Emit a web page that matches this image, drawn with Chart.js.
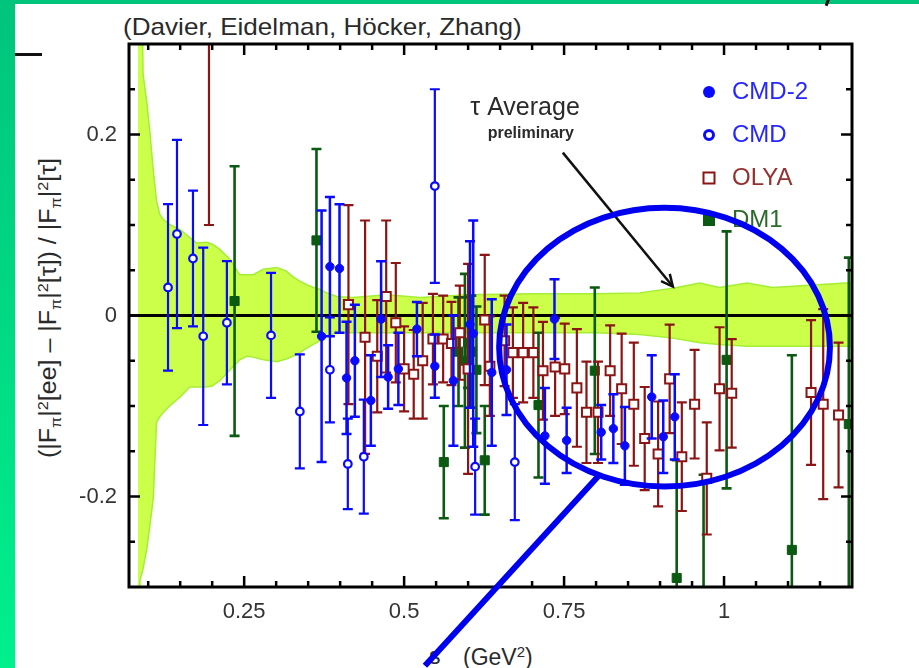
<!DOCTYPE html>
<html><head><meta charset="utf-8">
<script src="https://cdn.jsdelivr.net/npm/chart.js@4.4.1/dist/chart.umd.min.js"></script>
<style>
html,body{margin:0;padding:0;width:919px;height:668px;overflow:hidden;}
body{position:relative;background:linear-gradient(180deg,#00c47a 0%,#00f08e 100%);font-family:"Liberation Sans",Arial,sans-serif;}
#panel{position:absolute;left:15px;top:4px;right:0;bottom:0;background:#fff;}
#dash{position:absolute;left:15px;top:53px;width:27px;height:3px;background:#111;}
#slash{position:absolute;left:826px;top:-2px;width:3px;height:8px;background:#111;transform:rotate(20deg);}
.lbl{position:absolute;color:#2a2a2a;white-space:nowrap;line-height:1;}
#title{left:123px;top:15px;font-size:24px;transform-origin:0 0;}
#ylab{left:50px;top:308px;font-size:23px;}
#xs{left:429px;top:645px;font-size:23px;}
#xunit{left:463px;top:645px;font-size:23px;}
sub{font-size:0.65em;vertical-align:-0.35em;}
sup{font-size:0.65em;vertical-align:0.55em;}
canvas{position:absolute;left:0;top:0;}
</style></head>
<body>
<div id="panel"></div>
<div id="dash"></div>
<div id="slash"></div>
<div class="lbl" id="title">(Davier, Eidelman, Höcker, Zhang)</div>
<div class="lbl" id="ylab">(|F<sub>π</sub>|<sup>2</sup>[ee] – |F<sub>π</sub>|<sup>2</sup>[τ]) / |F<sub>π</sub>|<sup>2</sup>[τ]</div>
<div class="lbl" id="xs">s</div>
<div class="lbl" id="xunit">(GeV<sup>2</sup>)</div>
<canvas id="c" width="919" height="668"></canvas>
<script>
// ---------- data ----------
const xTickVals = [0.25, 0.5, 0.75, 1.0];
const xTickLabels = ['0.25', '0.5', '0.75', '1'];
const yTickVals = [-0.2, 0, 0.2];
const yTickLabels = ['-0.2', '0', '0.2'];

// CMD-2 (filled circles)
const cmd2X = [0.371, 0.384, 0.399, 0.410, 0.423, 0.448, 0.464, 0.475, 0.491, 0.520, 0.548, 0.577, 0.603, 0.608, 0.637, 0.660, 0.720, 0.735, 0.754, 0.808, 0.827, 0.845, 0.887, 0.905, 0.923];
const cmd2Y = [-0.023, 0.054, 0.052, -0.069, -0.050, -0.094, -0.004, -0.068, -0.059, -0.015, -0.056, -0.072, -0.010, -0.020, -0.063, -0.060, -0.133, -0.004, -0.138, -0.129, -0.125, -0.144, -0.090, -0.134, -0.112];
const cmd2E = [0.139, 0.077, 0.071, 0.062, 0.062, 0.050, 0.064, 0.035, 0.040, 0.030, 0.035, 0.072, 0.092, 0.125, 0.081, 0.050, 0.053, 0.044, 0.036, 0.030, 0.038, 0.043, 0.046, 0.040, 0.047];

// CMD (open circles)
const cmdX = [0.131, 0.145, 0.170, 0.186, 0.223, 0.292, 0.337, 0.384, 0.412, 0.437, 0.548, 0.611, 0.673];
const cmdY = [0.031, 0.090, 0.063, -0.023, -0.008, -0.022, -0.106, -0.060, -0.164, -0.156, 0.143, -0.167, -0.162];
const cmdE = [0.092, 0.104, 0.075, 0.098, 0.068, 0.069, 0.063, 0.058, 0.050, 0.063, 0.107, 0.053, 0.064];

// OLYA (open squares)
const olyaX = [0.195, 0.413, 0.439, 0.458, 0.472, 0.487, 0.500, 0.515, 0.529, 0.545, 0.561, 0.574, 0.587, 0.600, 0.626, 0.634, 0.657, 0.670, 0.686, 0.702, 0.717, 0.736, 0.751, 0.770, 0.785, 0.803, 0.822, 0.840, 0.859, 0.876, 0.897, 0.915, 0.934, 0.954, 0.973, 0.993, 1.012, 1.136, 1.155, 1.179];
const olyaY = [0.32, 0.012, -0.024, -0.045, 0.021, -0.008, -0.059, -0.065, -0.050, -0.026, -0.026, -0.031, -0.019, -0.059, -0.005, -0.056, -0.028, -0.041, -0.041, -0.041, -0.061, -0.057, -0.059, -0.080, -0.107, -0.107, -0.061, -0.081, -0.098, -0.136, -0.153, -0.070, -0.156, -0.098, -0.180, -0.081, -0.086, -0.085, -0.098, -0.110];
const olyaE = [0.22, 0.110, 0.129, 0.062, 0.084, 0.066, 0.047, 0.049, 0.064, 0.050, 0.048, 0.046, 0.052, 0.116, 0.072, 0.055, 0.050, 0.050, 0.055, 0.050, 0.054, 0.054, 0.050, 0.065, 0.056, 0.056, 0.050, 0.061, 0.068, 0.057, 0.058, 0.060, 0.060, 0.060, 0.062, 0.068, 0.060, 0.080, 0.105, 0.080];

// DM1 (filled squares)
const dm1X = [0.235, 0.363, 0.562, 0.585, 0.595, 0.600, 0.605, 0.613, 0.626, 0.710, 0.798, 0.926, 0.968, 1.004, 1.106, 1.195];
const dm1Y = [0.016, 0.083, -0.162, -0.040, -0.050, -0.030, -0.040, -0.060, -0.160, -0.099, -0.061, -0.290, -0.340, -0.049, -0.259, -0.120];
const dm1E = [0.149, 0.101, 0.062, 0.060, 0.096, 0.050, 0.062, 0.070, 0.060, 0.080, 0.092, 0.130, 0.164, 0.142, 0.215, 0.184];

// tau average band
const bandX  = [0.084, 0.087, 0.092, 0.098, 0.103, 0.108, 0.113, 0.118, 0.124, 0.135, 0.150, 0.165, 0.176, 0.191, 0.200, 0.212, 0.228, 0.243, 0.254, 0.264, 0.280, 0.301, 0.316, 0.326, 0.337, 0.348, 0.358, 0.368, 0.379, 0.395, 0.420, 0.473, 0.525, 0.600, 0.700, 0.800, 0.868, 0.920, 0.962, 0.993, 1.036, 1.076, 1.120, 1.190, 1.200];
const bandUp = [0.50, 0.50, 0.267, 0.235, 0.200, 0.160, 0.127, 0.112, 0.106, 0.100, 0.095, 0.086, 0.080, 0.081, 0.079, 0.073, 0.062, 0.045, 0.045, 0.045, 0.051, 0.053, 0.049, 0.043, 0.038, 0.034, 0.031, 0.029, 0.025, 0.021, 0.020, 0.023, 0.020, 0.023, 0.024, 0.024, 0.025, 0.030, 0.036, 0.031, 0.036, 0.031, 0.033, 0.036, 0.036];
const bandLo = [-0.50, -0.293, -0.280, -0.257, -0.230, -0.202, -0.118, -0.112, -0.107, -0.099, -0.090, -0.079, -0.079, -0.079, -0.078, -0.072, -0.060, -0.049, -0.045, -0.046, -0.049, -0.051, -0.048, -0.045, -0.041, -0.036, -0.032, -0.028, -0.023, -0.019, -0.019, -0.019, -0.019, -0.019, -0.019, -0.019, -0.021, -0.025, -0.030, -0.032, -0.034, -0.034, -0.034, -0.034, -0.034];

// ---------- styling ----------
const BLUE = '#0a0aff', RED = '#8b1414', GREEN = '#0b5a12';
const FONT = '"Liberation Sans", Arial, sans-serif';
const xMin = 0.07, xMax = 1.2, yMin = -0.3, yMax = 0.3;

function pts(xs, ys) { return xs.map((x, i) => ({ x: x, y: ys[i] })); }

const errBars = {
  id: 'errBars',
  beforeDatasetDraw(chart, args) {
    const ds = chart.data.datasets[args.index];
    if (!ds.errors) return;
    const ctx = chart.ctx, a = chart.chartArea, xs = chart.scales.x, ys = chart.scales.y;
    ctx.save();
    ctx.beginPath(); ctx.rect(a.left, a.top, a.right - a.left, a.bottom - a.top); ctx.clip();
    ctx.strokeStyle = ds.borderColor; ctx.lineWidth = ds.errWidth; ctx.lineCap = 'butt';
    const cap = 5;
    ds.data.forEach((p, i) => {
      const e = ds.errors[i];
      const px = xs.getPixelForValue(p.x);
      const ph = ys.getPixelForValue(p.y + e), pl = ys.getPixelForValue(p.y - e);
      ctx.beginPath();
      ctx.moveTo(px, ph); ctx.lineTo(px, pl);
      ctx.moveTo(px - cap, ph); ctx.lineTo(px + cap, ph);
      ctx.moveTo(px - cap, pl); ctx.lineTo(px + cap, pl);
      ctx.stroke();
    });
    ctx.restore();
  },
  afterDatasetDraw(chart, args) {
    if (chart.data.datasets[args.index].zeroAfter) {
      const ctx = chart.ctx, a = chart.chartArea, y0 = chart.scales.y.getPixelForValue(0);
      ctx.save(); ctx.strokeStyle = '#000'; ctx.lineWidth = 3;
      ctx.beginPath(); ctx.moveTo(a.left, y0); ctx.lineTo(a.right, y0); ctx.stroke(); ctx.restore();
    }
  },
  afterDatasetsDraw(chart) {
    const ctx = chart.ctx, a = chart.chartArea, xs = chart.scales.x, ys = chart.scales.y;
    ctx.save();
    ctx.strokeStyle = '#000'; ctx.lineWidth = 2.5;
    for (let k = 2; k <= 23; k++) {
      const v = k * 0.05; const major = (k % 5 === 0);
      const px = xs.getPixelForValue(v), L = major ? 11 : 6;
      ctx.beginPath(); ctx.moveTo(px, a.bottom); ctx.lineTo(px, a.bottom - L);
      ctx.moveTo(px, a.top); ctx.lineTo(px, a.top + L); ctx.stroke();
    }
    for (let k = -5; k <= 5; k++) {
      const v = k * 0.05; const major = (k % 4 === 0);
      const py = ys.getPixelForValue(v), L = major ? 11 : 6;
      ctx.beginPath(); ctx.moveTo(a.left, py); ctx.lineTo(a.left + L, py);
      ctx.moveTo(a.right, py); ctx.lineTo(a.right - L, py); ctx.stroke();
    }
    ctx.lineWidth = 3;
    ctx.strokeRect(a.left, a.top, a.right - a.left, a.bottom - a.top);
    ctx.restore();
  },
  afterDraw(chart) {
    const ctx = chart.ctx, a = chart.chartArea, xs = chart.scales.x, ys = chart.scales.y;
    const X = v => xs.getPixelForValue(v), Y = v => ys.getPixelForValue(v);
    ctx.save();
    // legend
    const names = ['CMD-2', 'CMD', 'OLYA', 'DM1'];
    const tcol = ['#2626ff', '#2626ff', '#963030', '#2a6a2a'];
    const rows = [48, 91, 134, 176];
    const mx = a.right - 143, tx = a.right - 120;
    ctx.font = '24px ' + FONT; ctx.textBaseline = 'middle'; ctx.textAlign = 'left';
    names.forEach((n, i) => {
      const yy = a.top + rows[i];
      ctx.fillStyle = tcol[i]; ctx.fillText(n, tx, yy);
      if (i === 0) { ctx.fillStyle = BLUE; ctx.beginPath(); ctx.arc(mx, yy, 6, 0, 2 * Math.PI); ctx.fill(); }
      if (i === 1) { ctx.strokeStyle = BLUE; ctx.lineWidth = 3; ctx.beginPath(); ctx.arc(mx, yy, 4.5, 0, 2 * Math.PI); ctx.stroke(); }
      if (i === 2) { ctx.strokeStyle = RED; ctx.lineWidth = 2; ctx.strokeRect(mx - 5.5, yy - 5.5, 11, 11); }
      if (i === 3) { ctx.fillStyle = GREEN; ctx.fillRect(mx - 6, yy - 6, 12, 12); }
    });
    // tau average text + arrow
    ctx.fillStyle = '#2a2a2a'; ctx.textAlign = 'center';
    ctx.font = '25px ' + FONT; ctx.fillText('τ Average', X(0.689), Y(0.2297));
    ctx.font = 'bold 16px ' + FONT; ctx.fillText('preliminary', X(0.698), Y(0.201));
    const ax0 = X(0.748), ay0 = Y(0.180), ax1 = X(0.92), ay1 = Y(0.032);
    ctx.strokeStyle = '#111'; ctx.lineWidth = 2.5;
    ctx.beginPath(); ctx.moveTo(ax0, ay0); ctx.lineTo(ax1, ay1); ctx.stroke();
    const ang = Math.atan2(ay1 - ay0, ax1 - ax0), hl = 13;
    ctx.beginPath();
    ctx.moveTo(ax1 - hl * Math.cos(ang - 0.45), ay1 - hl * Math.sin(ang - 0.45));
    ctx.lineTo(ax1, ay1);
    ctx.lineTo(ax1 - hl * Math.cos(ang + 0.45), ay1 - hl * Math.sin(ang + 0.45));
    ctx.stroke();
    // blue ellipse + pointer line
    const eL = X(0.6485), eR = X(1.1655), eT = Y(0.119), eB = Y(-0.189);
    ctx.strokeStyle = '#0000f0'; ctx.lineWidth = 6;
    ctx.beginPath();
    ctx.ellipse((eL + eR) / 2, (eT + eB) / 2, (eR - eL) / 2, (eB - eT) / 2, 0, 0, 2 * Math.PI);
    ctx.stroke();
    ctx.beginPath(); ctx.moveTo(X(0.803), Y(-0.178)); ctx.lineTo(X(0.5325), Y(-0.387)); ctx.stroke();
    ctx.restore();
  }
};

new Chart(document.getElementById('c'), {
  type: 'scatter',
  data: {
    datasets: [
      { label: 'CMD-2', data: pts(cmd2X, cmd2Y), errors: cmd2E, errWidth: 2.5, pointStyle: 'circle', pointRadius: 4.2, backgroundColor: BLUE, borderColor: BLUE, borderWidth: 1, order: 1 },
      { label: 'CMD', data: pts(cmdX, cmdY), errors: cmdE, errWidth: 2.2, pointStyle: 'circle', pointRadius: 3.8, backgroundColor: '#fff', borderColor: BLUE, borderWidth: 2.2, order: 1 },
      { label: 'OLYA', data: pts(olyaX, olyaY), errors: olyaE, errWidth: 2.2, pointStyle: 'rect', pointRadius: 6.4, backgroundColor: '#fff', borderColor: RED, borderWidth: 2, order: 1 },
      { label: 'DM1', data: pts(dm1X, dm1Y), errors: dm1E, errWidth: 2.6, pointStyle: 'rect', pointRadius: 6.4, backgroundColor: GREEN, borderColor: GREEN, borderWidth: 1, order: 1 },
      { label: 'tau band upper', type: 'line', data: pts(bandX, bandUp), borderColor: '#a4ee36', borderWidth: 1.5, pointRadius: 0, fill: false, tension: 0, order: 5, zeroAfter: true },
      { label: 'tau band lower', type: 'line', data: pts(bandX, bandLo), borderColor: '#a4ee36', borderWidth: 1.5, pointRadius: 0, fill: '-1', backgroundColor: '#ccff4a', tension: 0, order: 5 }
    ]
  },
  options: {
    responsive: false, animation: false, devicePixelRatio: 1,
    layout: { padding: { left: 0, right: 67, top: 44, bottom: 0 } },
    plugins: { legend: { display: false }, tooltip: { enabled: false } },
    scales: {
      x: {
        type: 'linear', min: xMin, max: xMax,
        grid: { display: false, drawTicks: false }, border: { display: false },
        afterBuildTicks: s => { s.ticks = xTickVals.map(v => ({ value: v })); },
        afterFit: s => { s.height = 81; },
        ticks: { autoSkip: false, maxRotation: 0, padding: 12, color: '#333', font: { family: FONT, size: 22 }, callback: (v, i) => xTickLabels[i] }
      },
      y: {
        type: 'linear', min: yMin, max: yMax,
        grid: { display: false, drawTicks: false }, border: { display: false },
        afterBuildTicks: s => { s.ticks = yTickVals.map(v => ({ value: v })); },
        afterFit: s => { s.width = 129; },
        ticks: { autoSkip: false, padding: 12, color: '#333', font: { family: FONT, size: 22 }, callback: (v, i) => yTickLabels[i] }
      }
    }
  },
  plugins: [errBars]
});

const t = document.getElementById('title');
t.style.transform = 'scaleX(' + (399 / t.offsetWidth) + ')';
const yl = document.getElementById('ylab');
yl.style.transform = 'translate(-50%,-50%) rotate(-90deg) scaleX(' + (300 / yl.offsetWidth) + ')';
</script>
</body></html>
